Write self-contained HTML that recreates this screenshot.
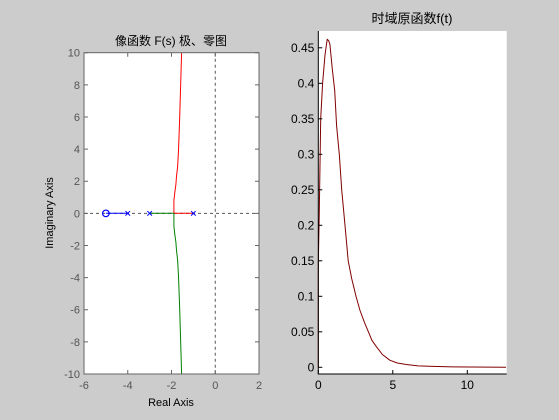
<!DOCTYPE html>
<html><head><meta charset="utf-8"><style>
html,body{margin:0;padding:0;background:#cccccc;}
svg{display:block;font-family:"Liberation Sans","Noto Sans CJK SC",sans-serif;}
</style></head><body>
<svg id="fig" width="559" height="420" viewBox="0 0 559 420">
<rect x="0" y="0" width="559" height="420" fill="#cccccc"/>
<g id="left"></g>
<g id="right"></g>
</svg>
<script>
// Left chart data: root locus
const rlXTicks=[-6,-4,-2,0,2];
const rlYTicks=[-10,-8,-6,-4,-2,0,2,4,6,8,10];
const poles=[-1,-3,-4];
const zeros=[-5];
const upperRe=[-1.89,-1.89,-1.84,-1.80,-1.77,-1.72,-1.68,-1.63,-1.57,-1.54];
const upperIm=[0,0.8,1.4,1.8,2.3,2.9,3.9,5.8,8.5,10];
const realBranchRed=[-1,-1.89];
const realBranchGreen=[-3,-1.89];
const realBranchBlue=[-4,-5];
// Right chart data: f(t)
const tVals=[0,0,0.07,0.16,0.29,0.45,0.6,0.7,0.78,0.94,1.1,1.23,1.41,1.57,1.79,2.01,2.24,2.53,2.8,3.1,3.36,3.6,3.9,4.3,4.8,5.3,5.9,6.7,7.7,9,12.6];
const fVals=[0,0.146,0.22,0.35,0.40,0.44,0.462,0.46,0.455,0.42,0.39,0.34,0.30,0.25,0.2,0.15,0.125,0.1,0.08,0.063,0.05,0.038,0.029,0.018,0.01,0.006,0.004,0.002,0.0012,0.0005,0];
const fXTicks=[0,5,10];
const fYTicks=[0,0.05,0.1,0.15,0.2,0.25,0.3,0.35,0.4,0.45];
const fYLabels=['0','0.05','0.1','0.15','0.2','0.25','0.3','0.35','0.4','0.45'];

const NS='http://www.w3.org/2000/svg';
function mk(parent,tag,attrs,text){const e=document.createElementNS(NS,tag);for(const k in attrs)e.setAttribute(k,attrs[k]);if(text!==undefined)e.textContent=text;parent.appendChild(e);return e;}

// ---- Left plot ----
const L=document.getElementById('left');
const lx0=84,lx1=259,ly0=52.7,ly1=374;
const sxL=v=>lx0+(v+6)/8*(lx1-lx0);
const syL=v=>ly1-(v+10)/20*(ly1-ly0);
let e;
e=mk(L,'rect',{x:lx0,y:ly0,width:lx1-lx0,height:ly1-ly0,fill:'#fff'});


e=mk(L,'line',{x1:lx0,x2:lx1,y1:syL(0),y2:syL(0),stroke:'#555','stroke-dasharray':'3,3','stroke-width':1});


e=mk(L,'line',{x1:sxL(0),x2:sxL(0),y1:ly0,y2:ly1,stroke:'#555','stroke-dasharray':'3,3','stroke-width':1});


function poly(g,xs,ys,sx,sy,color,name){const pts=xs.map((x,i)=>sx(x).toFixed(1)+','+sy(ys[i]).toFixed(1)).join(' ');const p=mk(g,'polyline',{points:pts,fill:'none',stroke:color,'stroke-width':1,'stroke-linejoin':'round'});return p;}
poly(L,realBranchRed,[0,0],sxL,syL,'#ff0000','locus-red-real');
poly(L,upperRe,upperIm,sxL,syL,'#ff0000','locus-red-branch');
poly(L,realBranchGreen,[0,0],sxL,syL,'#008000','locus-green-real');
poly(L,upperRe,upperIm.map(v=>-v),sxL,syL,'#008000','locus-green-branch');
poly(L,realBranchBlue,[0,0],sxL,syL,'#0000ff','locus-blue-real');
poles.forEach(p=>{const cx=sxL(p),cy=syL(0);const g=mk(L,'path',{d:`M${cx-2.3},${cy-2.3}L${cx+2.3},${cy+2.3}M${cx-2.3},${cy+2.3}L${cx+2.3},${cy-2.3}`,stroke:'#0000ff','stroke-width':1});

});
zeros.forEach(z=>{const c=mk(L,'circle',{cx:sxL(z),cy:syL(0),r:3.3,fill:'none',stroke:'#0000ff','stroke-width':1.2});

});
e=mk(L,'rect',{x:lx0,y:ly0,width:lx1-lx0,height:ly1-ly0,fill:'none',stroke:'#666','stroke-width':1});


rlXTicks.forEach(v=>{const x=sxL(v);mk(L,'path',{d:`M${x},${ly1}v-4M${x},${ly0}v4`,stroke:'#666'});
const t=mk(L,'text',{x:x,y:ly1+15,'font-size':11,fill:'#555','text-anchor':'middle'},String(v));

});
rlYTicks.forEach(v=>{const y=syL(v);mk(L,'path',{d:`M${lx0},${y}h4M${lx1},${y}h-4`,stroke:'#666'});
const t=mk(L,'text',{x:lx0-4,y:y+4,'font-size':11,fill:'#555','text-anchor':'end'},String(v));

});
e=mk(L,'text',{x:171,y:45,'font-size':12,fill:'#000','text-anchor':'middle'},'像函数 F(s) 极、零图');


e=mk(L,'text',{x:171,y:406,'font-size':11,fill:'#000','text-anchor':'middle'},'Real Axis');


e=mk(L,'text',{x:0,y:0,'font-size':11,fill:'#000','text-anchor':'middle',transform:'translate(53,213) rotate(-90)'},'Imaginary Axis');



// ---- Right plot ----
const R=document.getElementById('right');
const rx0=318.3,rx1=506.7,ry0=31,ry1=374;
const sxR=v=>rx0+v*14.9;
const syR=v=>367.3-v/0.05*35.5;
e=mk(R,'rect',{x:rx0,y:ry0,width:rx1-rx0,height:ry1-ry0,fill:'#fff'});


poly(R,tVals,fVals,sxR,syR,'#800000','f-t-curve');
e=mk(R,'path',{d:`M${rx0},${ry0}V${ry1}H${rx1}`,fill:'none',stroke:'#000','stroke-width':1});


fXTicks.forEach(v=>{const x=sxR(v);mk(R,'path',{d:`M${x},${ry1}v-4`,stroke:'#000'});
const t=mk(R,'text',{x:x,y:ry1+15,'font-size':12,fill:'#000','text-anchor':'middle'},String(v));

});
fYTicks.forEach((v,i)=>{const y=syR(v);mk(R,'path',{d:`M${rx0},${y}h4`,stroke:'#000'});
const t=mk(R,'text',{x:rx0-4,y:y+4,'font-size':12,fill:'#000','text-anchor':'end'},fYLabels[i]);

});
e=mk(R,'text',{x:412,y:23,'font-size':13,fill:'#000','text-anchor':'middle'},'时域原函数f(t)');


</script>
</body></html>
